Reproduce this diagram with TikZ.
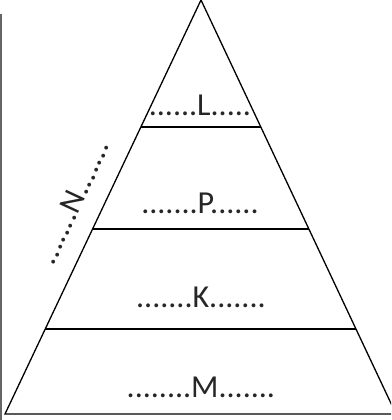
\documentclass[tikz,border=0pt]{standalone}
\usepackage{fontspec}
\setmainfont{Carlito}
\usetikzlibrary{calc}
\begin{document}
\begin{tikzpicture}[x=1pt,y=-1pt,
  edge/.style={line width=1.3pt,black},
  lbl/.style={anchor=base,inner sep=0pt,font=\fontsize{32}{34}\selectfont,text=black!85}]
\useasboundingbox (0,0) rectangle (391,420);
\clip (0,0) rectangle (391,420);
\draw[gray!80!black, line width=1.5pt] (1,14) -- (1,420);
\coordinate (A) at (201,0);
\coordinate (BL) at (5,414);
\coordinate (BR) at (396,414);
\draw[edge, line join=miter] (A) -- (BL) -- (BR) -- cycle;
\foreach \t in {0.307,0.553,0.795} {
  \draw[edge] ($(A)!\t!(BL)$) -- ($(A)!\t!(BR)$);
}
\node[lbl] (L) at (200,115) {......L.....};
\node[lbl] (P) at (200,213) {.......P......};
\node[lbl] (K) at (201,307) {.......K.......};
\node[lbl] (M) at (201,397) {........M.......};
\node[lbl, rotate=65] (N) at (82,206) {.......N.......};
\end{tikzpicture}
\end{document}
